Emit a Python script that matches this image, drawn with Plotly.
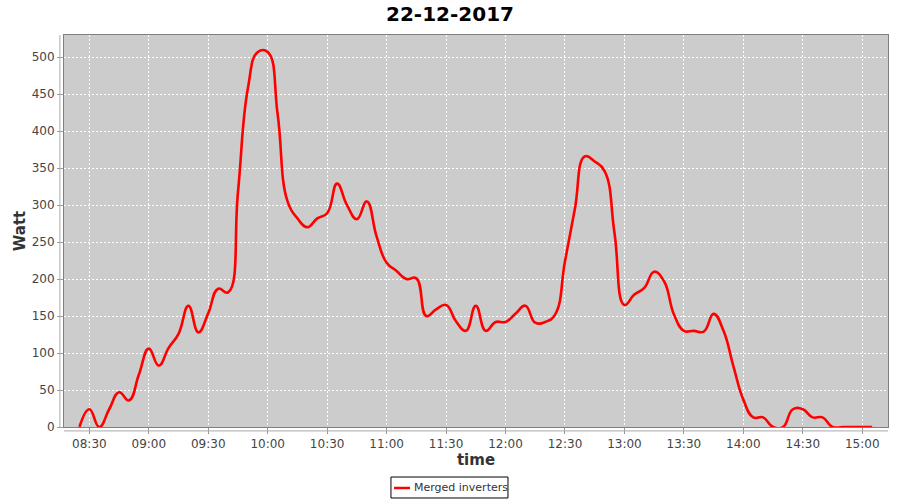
import plotly.graph_objects as go

times = ["08:25", "08:30", "08:35", "08:40", "08:45", "08:50", "08:55",
         "09:00", "09:05", "09:10", "09:15", "09:20", "09:25", "09:30", "09:35", "09:40", "09:45", "09:50", "09:55",
         "10:00", "10:05", "10:10", "10:15", "10:20", "10:25", "10:30", "10:35", "10:40", "10:45", "10:50", "10:55",
         "11:00", "11:05", "11:10", "11:15", "11:20", "11:25", "11:30", "11:35", "11:40", "11:45", "11:50", "11:55",
         "12:00", "12:05", "12:10", "12:15", "12:20", "12:25", "12:30", "12:35", "12:40", "12:45", "12:50", "12:55",
         "13:00", "13:05", "13:10", "13:15", "13:20", "13:25", "13:30", "13:35", "13:40", "13:45", "13:50", "13:55",
         "14:00", "14:05", "14:10", "14:15", "14:20", "14:25", "14:30", "14:35", "14:40", "14:45", "14:50", "14:55",
         "15:00", "15:05"]
watt = [0, 24, 0, 24, 47, 36, 71,
        106, 83, 107, 126, 164, 128, 154, 187, 182, 318, 458, 507,
        507, 423, 305, 282, 270, 282, 289, 329, 300, 281, 305, 257,
        222, 211, 200, 201, 150, 159, 165, 143, 130, 164, 130, 142,
        142, 153, 164, 141, 142, 152, 224, 295, 366, 359, 346, 262,
        165, 179, 188, 210, 197, 152, 130, 130, 129, 153, 130, 82,
        37, 13, 13, 0, 0, 24, 24, 13, 13, 0, 0, 0,
        0, 0]
date = "2017-12-22"
series_name = "Merged inverters"
title_text = "22-12-2017"

x_vals = [f"{date} {t}:00" for t in times]

FONT = "DejaVu Sans"
LINE_COLOR = "#ff0000"

fig = go.Figure()
fig.add_trace(go.Scatter(
    x=x_vals, y=watt, mode="lines", name=series_name,
    line=dict(color=LINE_COLOR, width=2.6, shape="spline", smoothing=1.3),
    showlegend=False,
))

fig.update_layout(
    width=900, height=500,
    margin=dict(l=64, r=12, t=35, b=73, autoexpand=False),
    paper_bgcolor="white",
    plot_bgcolor="#cccccc",
    title=dict(text=f"<b>{title_text}</b>", x=0.5, xanchor="center", xref="container",
               y=0.972, yref="container", yanchor="middle",
               font=dict(family=FONT, size=20, color="black")),
    showlegend=False,
    font=dict(family=FONT, size=11, color="#444444"),
)

fig.update_xaxes(
    type="date",
    range=[f"{date} 08:17:12", f"{date} 15:13:00"],
    tick0=f"{date} 08:30:00", dtick=1800000, tickformat="%H:%M",
    showgrid=True, gridcolor="white", gridwidth=1, griddash="2px,2px",
    zeroline=False, showline=True, linecolor="#808080", linewidth=1, mirror=True,
    ticks="outside", ticklen=6, tickcolor="#999999",
    tickfont=dict(family=FONT, size=12, color="#444444"),
    title=dict(text="<b>time</b>", font=dict(family=FONT, size=15, color="#333333"), standoff=4),
    automargin=False,
)
fig.update_yaxes(
    range=[0, 530],
    tick0=0, dtick=50,
    showgrid=True, gridcolor="white", gridwidth=1, griddash="2px,2px",
    zeroline=False, showline=True, linecolor="#808080", linewidth=1, mirror=True,
    ticks="outside", ticklen=6, tickcolor="#999999",
    tickfont=dict(family=FONT, size=12, color="#444444"),
    title=dict(text="<b>Watt</b>", font=dict(family=FONT, size=15, color="#333333"), standoff=2),
    automargin=False,
)

# offset axis lines like the original
fig.add_shape(type="line", xref="paper", yref="paper", x0=-0.005, x1=-0.005, y0=0, y1=1,
              line=dict(color="#aaaaaa", width=1))
fig.add_shape(type="line", xref="paper", yref="paper", x0=0, x1=1, y0=-0.01, y1=-0.01,
              line=dict(color="#aaaaaa", width=1))

# legend box (JFreeChart style) below the chart
fig.add_shape(type="rect", xref="paper", yref="paper", x0=0.3968, x1=0.5388, y0=-0.1811, y1=-0.1276,
              line=dict(color="black", width=1), fillcolor="white", layer="above")
fig.add_shape(type="line", xref="paper", yref="paper", x0=0.4005, x1=0.4199, y0=-0.1556, y1=-0.1556,
              line=dict(color=LINE_COLOR, width=2.5), layer="above")
fig.add_annotation(text=series_name, xref="paper", yref="paper", x=0.4223, y=-0.1556,
                   xanchor="left", yanchor="middle", showarrow=False,
                   font=dict(family=FONT, size=11, color="#333333"))

fig.write_html("out.html", post_script="document.body.style.margin='0';",
               config={"displayModeBar": False})
